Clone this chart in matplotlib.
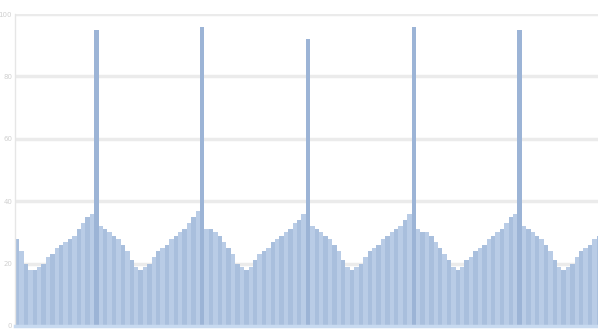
import numpy as np
import matplotlib.pyplot as plt

# hourly values, one list per day (first and last day are partial)
day0 = [28, 24, 20, 18, 18, 19, 20, 22, 23, 25, 26, 27, 28, 29, 31, 33, 35, 36]
day1 = [95, 32, 31, 30, 29, 28, 26, 24, 21, 19, 18, 19, 20, 22, 24, 25, 26, 28, 29, 30, 31, 33, 35, 37]
day2 = [96, 31, 31, 30, 29, 27, 25, 23, 20, 19, 18, 19, 21, 23, 24, 25, 27, 28, 29, 30, 31, 33, 34, 36]
day3 = [92, 32, 31, 30, 29, 28, 26, 24, 21, 19, 18, 19, 20, 22, 24, 25, 26, 28, 29, 30, 31, 32, 34, 36]
day4 = [96, 31, 30, 30, 29, 27, 25, 23, 21, 19, 18, 19, 21, 22, 24, 25, 26, 28, 29, 30, 31, 33, 35, 36]
day5 = [95, 32, 31, 30, 29, 28, 26, 24, 21, 19, 18, 19, 20, 22, 24, 25, 26, 28, 29]

y_ticks = [0, 20, 40, 60, 80, 100]

values = day0 + day1 + day2 + day3 + day4 + day5
x = np.arange(len(values))

fig = plt.figure(figsize=(5.98, 3.34), dpi=100)
ax = fig.add_axes([0.025, 0.024, 0.975, 0.934])

colors = ['#a9bfdd' if i % 2 == 0 else '#b9cce6' for i in range(len(values))]
for i, v in enumerate(values):
    if v > 60:
        colors[i] = '#9cb4d6'
ax.bar(x, values, width=1.0, color=colors, linewidth=0, zorder=2)

ax.set_xlim(-0.5, 131.8)
ax.set_ylim(0, 100)
ax.set_yticks(y_ticks)
ax.set_yticklabels([str(t) for t in y_ticks], fontsize=5, color='#d0d0d0')
ax.tick_params(axis='y', length=0, pad=2)
ax.set_xticks([])
ax.grid(axis='y', color='#ebebeb', linewidth=2.5, zorder=0)

for side in ['top', 'right']:
    ax.spines[side].set_visible(False)
ax.spines['left'].set_color('#e6e6e6')
ax.spines['left'].set_linewidth(1)
ax.spines['bottom'].set_color('#c8daf0')
ax.spines['bottom'].set_linewidth(2.5)
ax.spines['bottom'].set_zorder(3)

fig.savefig('out.png', dpi=100)
